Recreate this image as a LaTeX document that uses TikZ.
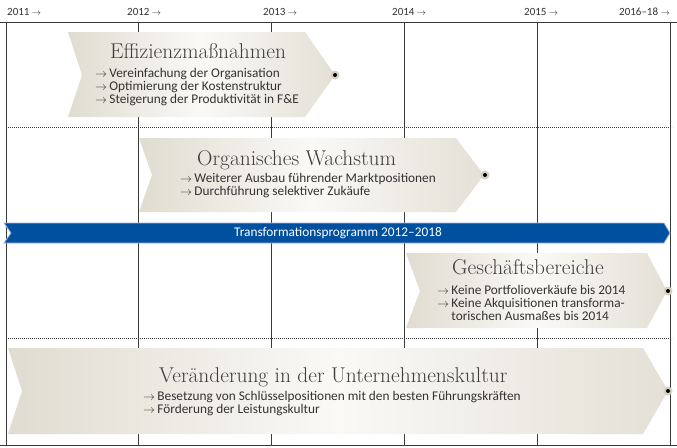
\documentclass[tikz,border=0pt]{standalone}
\usepackage{fontspec}
\newfontfamily\bulletfont{Carlito}
\definecolor{linec}{HTML}{3A3A3A}
\definecolor{txt}{HTML}{333333}
\definecolor{ttl}{HTML}{3E3E3E}
\definecolor{beigeL}{HTML}{E1DCD1}
\definecolor{beigeM}{HTML}{FAF9F6}
\definecolor{beigeR}{HTML}{E4E0D6}
\definecolor{halo}{HTML}{D6D0C3}
\definecolor{bandblue}{HTML}{0050A0}
\definecolor{bandedge}{HTML}{9FB6E2}
\newcommand\arr{{\fontsize{12}{12}\selectfont$\rightarrow$}\,}
\newcommand\harr{{\fontsize{9}{9}\selectfont$\rightarrow$}}
\tikzset{
  chevron/.style={shading=axis, left color=beigeL, right color=beigeR, middle color=beigeM, draw=none},
  grid/.style={draw=linec, line width=1pt},
  dotline/.style={draw=linec, line width=0.8pt, dash pattern=on 0.8pt off 1.2pt},
  ttlfont/.style={font=\fontsize{21.4}{22}\selectfont, text=ttl, anchor=base west, inner sep=0pt},
  bl/.style={font=\bulletfont\fontsize{13.3}{13.3}\selectfont, text=txt, anchor=base west, inner sep=0pt},
  yr/.style={font=\bulletfont\fontsize{11}{11}\selectfont, text=txt, anchor=base west, inner sep=0pt},
}
\begin{document}
\begin{tikzpicture}[x=1pt,y=-1pt]
\useasboundingbox (0,0) rectangle (677,447);
\fill[white] (0,0) rectangle (677,447);
% grid
\foreach \x in {6,138,271,404,537,670} { \draw[grid] (\x,22) -- (\x,445); }
\draw[grid] (0,22) -- (677,22);
\draw[grid] (0,445) -- (677,445);
\draw[dotline] (6,127) -- (672,127);
\draw[dotline] (6,338) -- (672,338);
% year labels
\node[yr] (y11) at (7,16) {2011 \harr};
\node[yr] (y12) at (127,16) {2012 \harr};
\node[yr] (y13) at (263,16) {2013 \harr};
\node[yr] (y14) at (392,16) {2014 \harr};
\node[yr] (y15) at (524,16) {2015 \harr};
\node[yr] (y16) at (619,16) {2016–18 \harr};
% shape 1
\path[chevron] (68,32) -- (305,32) -- (335,75) -- (305,117) -- (68,117) -- (82,75) -- cycle;
\fill[halo] (335,75) circle (4.5);
\fill[black] (335,75) circle (2);
\node[ttlfont] (t1) at (110,58) {Effizienzmaßnahmen};
\node[bl] (b1a) at (95,77) {\arr Vereinfachung der Organisation};
\node[bl] (b1b) at (95,90.3) {\arr Optimierung der Kostenstruktur};
\node[bl] (b1c) at (95,103.6) {\arr Steigerung der Produktivität in F\&E};
% shape 2
\path[chevron] (139,138) -- (456,138) -- (484,175) -- (456,212) -- (139,212) -- (152,175) -- cycle;
\fill[halo] (485,175) circle (4.5);
\fill[black] (485,175) circle (2);
\node[ttlfont] (t2) at (197,165) {Organisches Wachstum};
\node[bl] (b2a) at (180,182.5) {\arr Weiterer Ausbau führender Marktpositionen};
\node[bl] (b2b) at (180,195.8) {\arr Durchführung selektiver Zukäufe};
% band
\path[fill=bandblue, draw=bandedge, line width=0.8pt] (4,223) -- (664,223) -- (670,233) -- (664,243) -- (4,243) -- (11,233) -- cycle;
\node[font=\bulletfont\fontsize{13.3}{13.3}\selectfont, text=white, inner sep=0pt] (band) at (338,233) {Transformationsprogramm 2012–2018};
% shape 3
\path[chevron] (406,253) -- (647,253) -- (667,291) -- (647,328) -- (406,328) -- (420,291) -- cycle;
\fill[halo] (668,291) circle (4.5);
\fill[black] (668,291) circle (2);
\node[ttlfont] (t3) at (452,274.3) {Geschäftsbereiche};
\node[bl] (b3a) at (437,294) {\arr Keine Portfolioverkäufe bis 2014};
\node[bl] (b3b) at (437,307.3) {\arr Keine Akquisitionen transforma-};
\node[bl] (b3c) at (437,320.6) {\phantom{\arr}torischen Ausmaßes bis 2014};
% shape 4
\path[chevron] (8,348) -- (643,348) -- (668,391) -- (643,434) -- (8,434) -- (22,391) -- cycle;
\fill[halo] (668,391) circle (4.5);
\fill[black] (668,391) circle (2);
\node[ttlfont] (t4) at (159,382) {Veränderung in der Unternehmenskultur};
\node[bl] (b4a) at (143,400) {\arr Besetzung von Schlüsselpositionen mit den besten Führungskräften};
\node[bl] (b4b) at (143,413.3) {\arr Förderung der Leistungskultur};
\end{tikzpicture}
\end{document}
